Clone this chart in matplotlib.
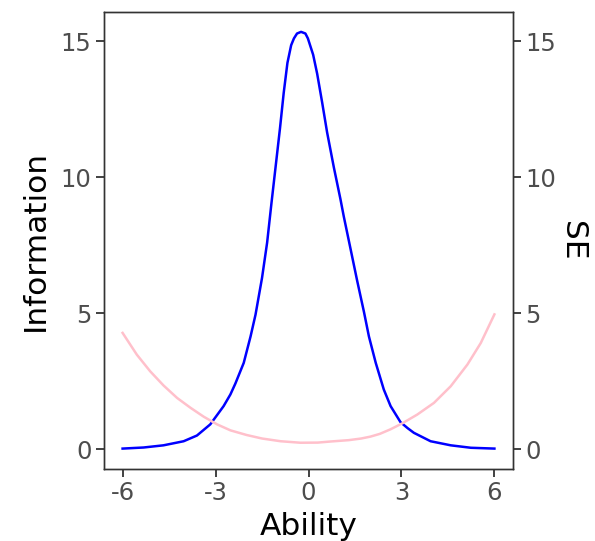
import numpy as np
import matplotlib
matplotlib.use("Agg")
import matplotlib.pyplot as plt

# test information curve
info_theta = [-6.0, -5.32, -4.68, -4.03, -3.60, -3.17, -2.74, -2.52, -2.36,
              -2.09, -1.87, -1.71, -1.50, -1.335, -1.20, -1.06, -0.92, -0.80,
              -0.68, -0.56, -0.47, -0.37, -0.24, -0.10, -0.02, 0.15, 0.28,
              0.44, 0.60, 0.82, 1.03, 1.14, 1.36, 1.57, 1.79, 1.95, 2.17,
              2.43, 2.65, 2.97, 3.20, 3.40, 3.94, 4.59, 5.24, 6.0]
info_vals = [0.03, 0.07, 0.15, 0.30, 0.51, 0.92, 1.59, 2.02, 2.42,
             3.18, 4.15, 4.95, 6.3, 7.6, 9.0, 10.4, 11.8, 13.1,
             14.2, 14.85, 15.10, 15.28, 15.34, 15.28, 15.10, 14.5, 13.8,
             12.75, 11.65, 10.35, 9.2, 8.55, 7.35, 6.2, 5.05, 4.15, 3.18,
             2.20, 1.59, 1.0, 0.78, 0.61, 0.30, 0.15, 0.06, 0.03]

# standard error curve
se_theta = [-6.0, -5.54, -5.11, -4.68, -4.24, -3.81, -3.38, -2.95, -2.52,
            -2.0, -1.5, -0.9, -0.26, 0.3, 0.71, 1.3, 1.7, 2.0, 2.3, 2.65,
            3.03, 3.51, 4.05, 4.59, 5.13, 5.56, 6.0]
se_vals = [4.28, 3.48, 2.87, 2.35, 1.89, 1.53, 1.20, 0.92, 0.70,
           0.53, 0.40, 0.30, 0.245, 0.25, 0.29, 0.34, 0.40, 0.47, 0.57, 0.74,
           0.96, 1.28, 1.71, 2.32, 3.12, 3.91, 4.96]

x_ticks = [-6, -3, 0, 3, 6]
y_ticks = [0, 5, 10, 15]

fig = plt.figure(figsize=(5.95, 5.41), dpi=100)
ax = fig.add_axes([104 / 595, 1 - 469 / 541, 409 / 595, 457 / 541])
ax.plot(info_theta, info_vals, color="blue", lw=1.8, solid_joinstyle="round")
ax.plot(se_theta, se_vals, color="pink", lw=1.8, solid_joinstyle="round")

ax.set_xlim(-6.6, 6.6)
ax.set_ylim(-0.72, 16.07)
ax.set_xticks(x_ticks)
ax.set_xticklabels([str(t) for t in x_ticks])
ax.set_yticks(y_ticks)

ax2 = ax.twinx()
ax2.set_ylim(ax.get_ylim())
ax2.set_yticks(y_ticks)

for a in (ax, ax2):
    a.tick_params(colors="#333333", labelcolor="#4D4D4D", labelsize=17.5,
                  length=6, width=1.3, pad=3)
    for s in a.spines.values():
        s.set_color("#333333")
        s.set_linewidth(1.0)

ax.set_xlabel("Ability", fontsize=22.5, labelpad=5)
ax.set_ylabel("Information", fontsize=22.5, labelpad=8)
ax2.set_ylabel("SE", fontsize=22.5, rotation=-90, labelpad=22)

fig.savefig("out.png", dpi=100)
